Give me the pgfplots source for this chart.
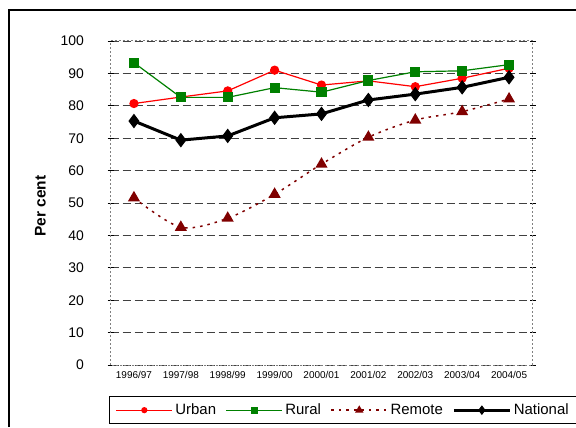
\documentclass[border=0pt]{standalone}
\usepackage{fontspec}
\setmainfont{Liberation Sans}
\usepackage{pgfplots}
\pgfplotsset{compat=1.18}
\definecolor{rural}{RGB}{0,128,0}
\definecolor{remote}{RGB}{128,0,0}

\begin{document}
\begin{tikzpicture}[x=1bp,y=1bp]
\useasboundingbox (0,0) rectangle (576,427);
\draw[line width=1.2bp] (9,0) -- (9,417) -- (576,417);
\begin{axis}[
    at={(110.5bp,62bp)}, anchor=south west,
    scale only axis, width=422bp, height=324bp,
    xmin=-0.5, xmax=8.5, ymin=0, ymax=100,
    xtick={0,...,8},
    xticklabels={1996/97,1997/98,1998/99,1999/00,2000/01,2001/02,2002/03,2003/04,2004/05},
    xtick style={draw=none},
    minor xtick={-0.5,0.5,...,8.5},
    ytick={0,10,...,100},
    tick align=center,
    major tick length=6bp, minor tick length=6bp,
    tick style={black, line width=0.8bp},
    ymajorgrids=true,
    grid style={black!75, dash pattern=on 8bp off 4bp, line width=0.9bp},
    axis line style={gray, line width=1bp, dash pattern=on 2bp off 2bp},
    /pgf/number format/assume math mode=true,
    xticklabel style={font=\fontsize{10}{12}\selectfont},
    yticklabel style={font=\fontsize{14}{16}\selectfont, xshift=-20bp},
    ylabel={Per cent},
    ylabel style={font=\fontsize{15.5}{17}\selectfont\bfseries, at={(axis description cs:-0.166,0.49)}, anchor=center},
    legend columns=4,
    legend style={at={(axis description cs:-0.004,-0.096)}, anchor=north west,
        draw=black, line width=0.8bp, font=\fontsize{15}{17}\selectfont,
        inner xsep=6.5bp, inner ysep=5bp,
        nodes={inner sep=2.5bp},
        /tikz/every even column/.append style={column sep=7bp}},
    legend image code/.code={\draw[mark repeat=2,mark phase=2, every mark/.append style={scale=0.62}] plot coordinates {(0bp,0bp) (28bp,0bp) (56bp,0bp)};},
]
\addplot[red, line width=1.2bp, mark=*, mark size=4bp, mark options={solid}]
    coordinates {(0,80.7) (1,82.7) (2,84.6) (3,91.0) (4,86.4) (5,87.7) (6,85.9) (7,88.5) (8,91.6)};
\addplot[rural, line width=1.2bp, mark=square*, mark size=4.5bp, mark options={solid}]
    coordinates {(0,93.3) (1,82.6) (2,82.6) (3,85.6) (4,84.2) (5,87.8) (6,90.5) (7,90.8) (8,92.7)};
\addplot[remote, line width=1.5bp, smooth, dash pattern=on 2.5bp off 5bp, mark=triangle*, mark size=5.5bp, mark options={solid}]
    coordinates {(0,51.6) (1,42.5) (2,45.3) (3,52.7) (4,62.0) (5,70.3) (6,75.6) (7,78.2) (8,82.1)};
\addplot[black, line width=3bp, mark=diamond*, mark size=6.5bp, mark options={solid, line width=1bp}]
    coordinates {(0,75.3) (1,69.4) (2,70.7) (3,76.3) (4,77.5) (5,81.8) (6,83.6) (7,85.7) (8,88.8)};
\legend{Urban,Rural,Remote,National}
\end{axis}
\end{tikzpicture}
\end{document}
